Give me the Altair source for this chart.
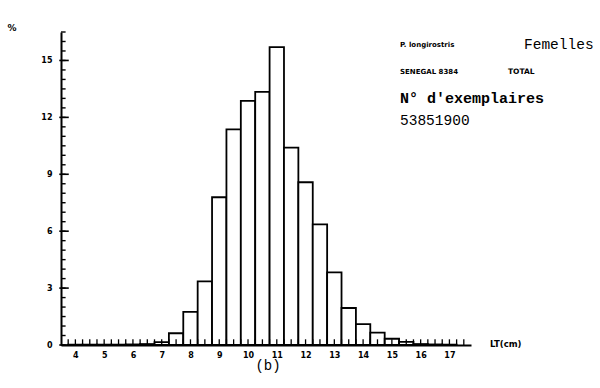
import altair as alt
import pandas as pd

# ---- data ----
lt_centers = [4, 4.5, 5, 5.5, 6, 6.5, 7, 7.5, 8, 8.5, 9, 9.5, 10, 10.5, 11,
              11.5, 12, 12.5, 13, 13.5, 14, 14.5, 15, 15.5, 16, 16.5, 17]
pct = [0.02, 0.02, 0.02, 0.02, 0.03, 0.05, 0.15, 0.62, 1.75, 3.35, 7.79, 11.37,
       12.87, 13.34, 15.70, 10.41, 8.58, 6.36, 3.83, 1.95, 1.10, 0.65, 0.33,
       0.17, 0.05, 0.03, 0.02]
x_labels = list(range(4, 18))
y_labels = [0, 3, 6, 9, 12, 15]
y_minor = [i * 0.5 for i in range(34)]
x_minor = [3.75 + i * 0.25 for i in range(56)]

W, H = 410, 313
XDOM = [3.5, 17.75]
YDOM = [0, 16.5]

df = pd.DataFrame({"c": lt_centers, "p": pct})
xs = alt.Scale(domain=XDOM, nice=False, zero=False)
ys = alt.Scale(domain=YDOM, nice=False)

LBL = dict(labelFont="DejaVu Sans", labelFontWeight="bold", labelFontSize=8,
           labelColor="black", domainColor="black", domainWidth=2, ticks=False,
           grid=False, title=None, labelOverlap=False, labelFlush=False,
           format="d")
x_axis = alt.Axis(values=x_labels, labelPadding=6, **LBL)
y_axis = alt.Axis(values=y_labels, labelPadding=9, **LBL)

bars = alt.Chart(df).transform_calculate(
    lo="datum.c - 0.25", hi="datum.c + 0.25", z="0"
).mark_bar(fill="white", stroke="black", strokeWidth=1.8).encode(
    x=alt.X("lo:Q", scale=xs, axis=x_axis),
    x2="hi:Q",
    y=alt.Y("p:Q", scale=ys, axis=y_axis),
    y2="z:Q",
)

# inward y ticks: minor every 0.5, major at labelled values
ymin_df = pd.DataFrame({"v": y_minor})
ytick_minor = alt.Chart(ymin_df).transform_calculate(
    a=str(XDOM[0]), b=str(XDOM[0] + 0.16)
).mark_rule(color="black", strokeWidth=1.4).encode(
    y=alt.Y("v:Q", scale=ys, axis=y_axis),
    x=alt.X("a:Q", scale=xs, axis=x_axis), x2="b:Q")
ymaj_df = pd.DataFrame({"v": y_labels})
ytick_major = alt.Chart(ymaj_df).transform_calculate(
    a=str(XDOM[0] - 0.06), b=str(XDOM[0] + 0.27)
).mark_rule(color="black", strokeWidth=1.6).encode(
    y=alt.Y("v:Q", scale=ys, axis=y_axis),
    x=alt.X("a:Q", scale=xs, axis=x_axis), x2="b:Q")

# upward x ticks every 0.25 cm
xmin_df = pd.DataFrame({"v": x_minor})
xtick = alt.Chart(xmin_df).transform_calculate(
    a="0", b="0.3"
).mark_rule(color="black", strokeWidth=1.3).encode(
    x=alt.X("v:Q", scale=xs, axis=x_axis),
    y=alt.Y("a:Q", scale=ys, axis=y_axis), y2="b:Q")

def txt(s, x, y, size, font="DejaVu Sans", weight="bold", align="left"):
    return alt.Chart(pd.DataFrame({"t": [s]})).mark_text(
        font=font, fontSize=size, fontWeight=weight, align=align,
        baseline="middle", color="black"
    ).encode(text="t:N", x=alt.value(x), y=alt.value(y))

mono = "Liberation Mono"
notes = [
    txt("%", -49, -4, 9, align="center"),
    txt("P. longirostris", 339, 13, 7),
    txt("Femelles", 463, 13, 14.5, font=mono, weight="normal"),
    txt("SENEGAL 8384", 339, 40, 7),
    txt("TOTAL", 447, 40, 7.5),
    txt("N° d'exemplaires", 339, 66, 15, font=mono, weight="bold"),
    txt("53851900", 339, 89, 14.5, font=mono, weight="normal"),
    txt("LT(cm)", 429, 312, 8.5),
    txt("(b)", 207, 334, 14, font=mono, weight="normal", align="center"),
]

chart = alt.layer(bars, ytick_minor, ytick_major, xtick, *notes).properties(
    width=W, height=H,
    autosize=alt.AutoSizeParams(type="none"),
    padding={"left": 61, "top": 32, "right": 600 - 61 - W, "bottom": 388 - 32 - H},
    background="white",
).configure_view(stroke=None)

chart.save("out.html", embed_options={"renderer": "svg", "actions": False})
